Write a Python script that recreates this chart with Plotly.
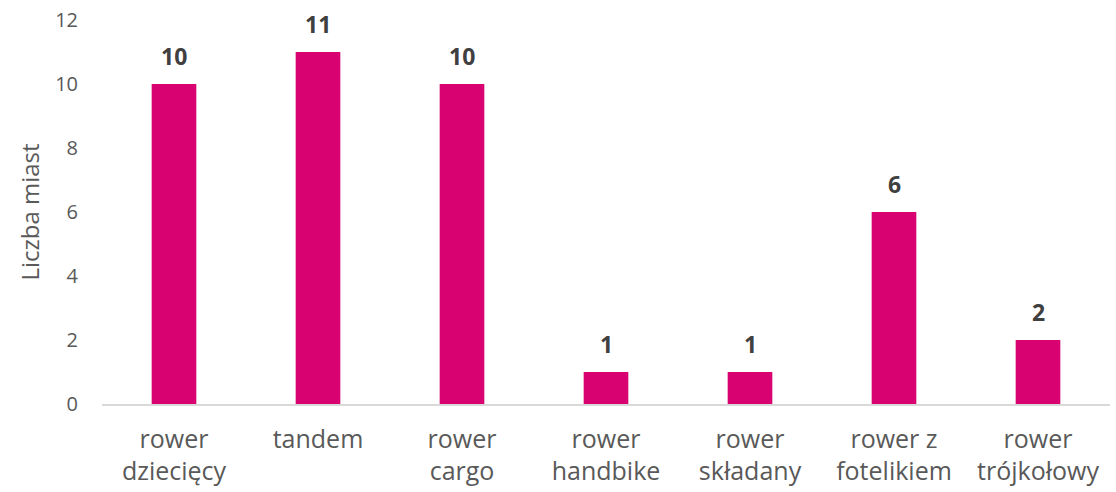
import plotly.graph_objects as go

categories = [
    "rower<br>dziecięcy",
    "tandem",
    "rower<br>cargo",
    "rower<br>handbike",
    "rower<br>składany",
    "rower z<br>fotelikiem",
    "rower<br>trójkołowy",
]
values = [10, 11, 10, 1, 1, 6, 2]
y_ticks = [0, 2, 4, 6, 8, 10, 12]

BAR_COLOR = "#D80270"
FONT = "Open Sans, sans-serif"

fig = go.Figure(
    go.Bar(
        x=categories,
        y=values,
        marker=dict(color=BAR_COLOR, line=dict(width=0)),
        width=0.31,
        hoverinfo="x+y",
    )
)

# value labels above each bar
for cat, val in zip(categories, values):
    fig.add_annotation(
        x=cat,
        y=val,
        text=str(val),
        showarrow=False,
        yanchor="bottom",
        yshift=10,
        font=dict(family=FONT, size=23, color="#404040", weight="bold"),
    )

fig.update_layout(
    width=1116,
    height=492,
    margin=dict(l=102, r=6, t=20, b=88),
    paper_bgcolor="white",
    plot_bgcolor="white",
    showlegend=False,
    font=dict(family=FONT, color="#595959"),
    xaxis=dict(
        showgrid=False,
        showline=True,
        linecolor="#D9D9D9",
        linewidth=1.5,
        ticks="",
        tickfont=dict(size=25, color="#595959"),
        ticklabelstandoff=12,
        automargin=False,
    ),
    yaxis=dict(
        range=[0, 12],
        tickvals=y_ticks,
        showgrid=False,
        zeroline=False,
        showline=False,
        ticks="",
        tickfont=dict(size=20, color="#595959"),
        ticklabelstandoff=23,
        automargin=False,
        title=dict(text="Liczba miast", font=dict(size=24, color="#595959"), standoff=8),
    ),
)

fig.write_html("out.html")
